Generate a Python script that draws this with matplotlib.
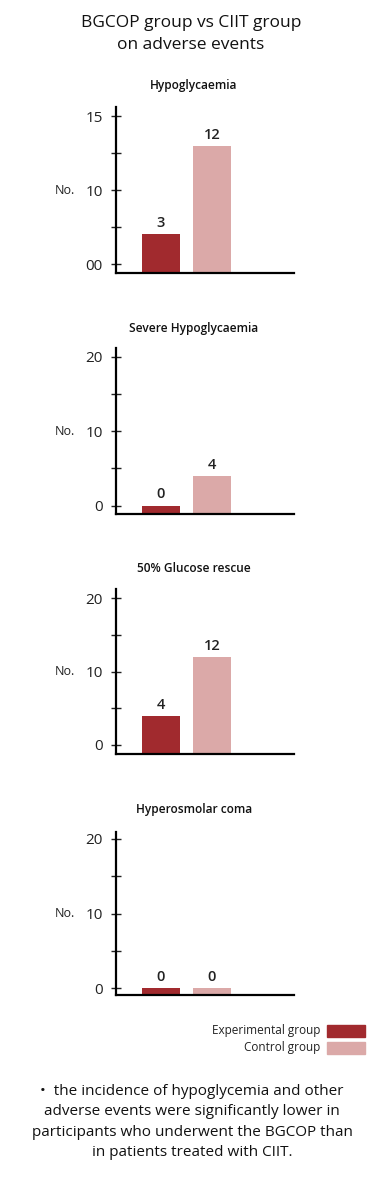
import matplotlib
matplotlib.use('Agg')
import matplotlib.pyplot as plt
from matplotlib.patches import Rectangle

plt.rcParams['font.family'] = ['Open Sans', 'DejaVu Sans']

# data
panel_titles = ['Hypoglycaemia', 'Severe Hypoglycaemia', '50% Glucose rescue', 'Hyperosmolar coma']
experimental = [3, 0, 4, 0]
control = [12, 4, 12, 0]
tick_vals = [[0, 3.75, 7.5, 11.25, 15], [0, 5, 10, 15, 20], [0, 5, 10, 15, 20], [0, 5, 10, 15, 20]]
tick_text = [['00', '', '10', '', '15'], ['0', '', '10', '', '20'], ['0', '', '10', '', '20'], ['0', '', '10', '', '20']]
legend_labels = ['Experimental group', 'Control group']
col_exp = '#a12a2e'
col_ctl = '#dba9a8'

W, H = 382, 1180
fig = plt.figure(figsize=(W / 100, H / 100), dpi=100)

def fx(px):
    return px / W

def fy(py):
    return 1 - py / H

fig.text(fx(191), fy(34), 'BGCOP group vs CIIT group\non adverse events', ha='center', va='center',
         fontsize=12.5, color='#111111', linespacing=1.45)

# pixel boxes for each panel: (spine top, zero tick, top tick, axis bottom, title y)
boxes = [(107, 264, 116, 273, 86), (348, 505.5, 357, 514, 328),
         (589, 745, 598, 754, 569), (832, 988, 839, 995, 810)]

left, right = 116, 294
for i, (top, zero, ttop, bot, ty) in enumerate(boxes):
    ax = fig.add_axes([fx(left), fy(bot), fx(right - left), (bot - top) / H])
    vmax = tick_vals[i][-1]
    ppu = (zero - ttop) / vmax
    ymin = -(bot - zero) / ppu
    ymax = vmax + (ttop - top) / ppu
    ax.set_ylim(ymin, ymax)
    ax.set_xlim(-0.88, 2.61)
    vals = [experimental[i], control[i]]
    cols = [col_exp, col_ctl]
    for j, v in enumerate(vals):
        ax.bar(j, v - ymin, bottom=ymin, width=0.745, color=cols[j])
        ax.text(j, v + 4 / ppu, str(v), ha='center', va='bottom', fontsize=10.5,
                fontweight='semibold', color='#222222')
    ax.set_yticks(tick_vals[i])
    ax.set_yticklabels(tick_text[i])
    ax.set_xticks([])
    for s in ['top', 'right']:
        ax.spines[s].set_visible(False)
    for s in ['left', 'bottom']:
        ax.spines[s].set_linewidth(1.6)
    ax.tick_params(axis='y', direction='inout', length=7, width=1, labelsize=11, pad=6, colors='#222222')
    ax.set_ylabel('No.', rotation=0, fontsize=9, va='center', color='#222222')
    ax.yaxis.set_label_coords(-0.29, (tick_vals[i][2] - ymin) / (ymax - ymin))
    ax.set_facecolor('none')
    fig.text(fx(194), fy(ty), panel_titles[i], ha='center', va='center', fontsize=8.6,
             fontweight='semibold', color='#111111')

# legend
for k, (lab, c) in enumerate(zip(legend_labels, [col_exp, col_ctl])):
    yc = 1030.5 + k * 17
    fig.patches.append(Rectangle((fx(327), fy(yc + 6)), fx(38), 12 / H, color=c,
                                 transform=fig.transFigure, figure=fig))
    fig.text(fx(320), fy(yc), lab, ha='right', va='center', fontsize=8.5, color='#222222')

fig.text(fx(192), fy(1122), '•  the incidence of hypoglycemia and other\nadverse events were significantly lower in\n'
         'participants who underwent the BGCOP than\nin patients treated with CIIT.',
         ha='center', va='center', fontsize=11, color='#111111', linespacing=1.5)

fig.savefig('out.png', dpi=100)
